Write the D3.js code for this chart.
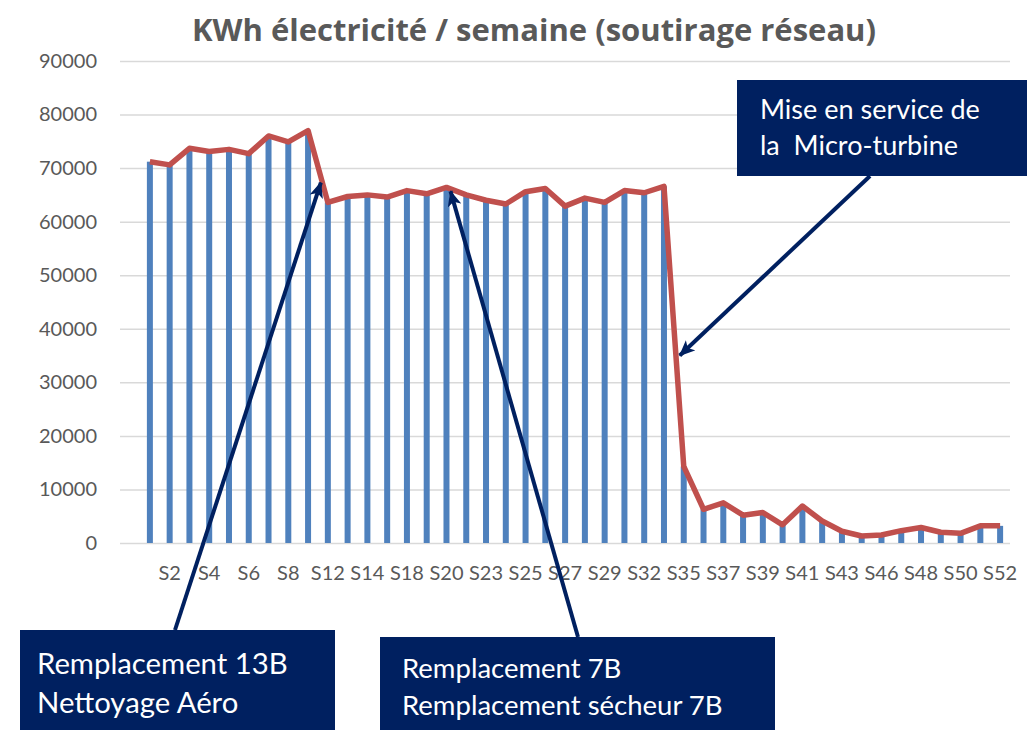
<!DOCTYPE html>
<html>
<head>
<meta charset="utf-8">
<script src="https://cdn.jsdelivr.net/npm/d3@7"></script>
<style>
  body { margin: 0; background: #fff; }
  svg { display: block; font-family: Lato, "Open Sans", sans-serif; }
</style>
</head>
<body>
<div id="chart"></div>
<script>
// Weekly consumption data (kWh)
const weeks = ["S1","S2","S3","S4","S5","S6","S7","S8","S9","S12","S13","S14","S16","S18","S19","S20",
               "S21","S23","S24","S25","S26","S27","S28","S29","S30","S32","S33","S35","S36","S37",
               "S38","S39","S40","S41","S42","S43","S44","S46","S47","S48","S49","S50","S51","S52"]
const kwh = [71200, 70600, 73700, 73100, 73500, 72700, 76000, 74900, 77000, 63600, 64700, 65000, 64600, 65800, 65200, 66400,
             65000, 64000, 63300, 65600, 66200, 62900, 64400, 63600, 65800, 65400, 66600, 14300, 6300, 7500,
             5200, 5700, 3400, 6900, 4100, 2200, 1300, 1500, 2300, 2900, 2000, 1800, 3200, 3200]
const yTicks = [0, 10000, 20000, 30000, 40000, 50000, 60000, 70000, 80000, 90000]

const WIDTH = 1027
const HEIGHT = 730

let svg = d3.select("#chart").append("svg")
    .attr("width", WIDTH)
    .attr("height", HEIGHT)

// scales
const x = d3.scaleBand().domain(weeks).range([140, 1010]).padding(0)
const y = d3.scaleLinear().domain([0, 90000]).range([543, 61])
const xc = d => x(d) + x.bandwidth() / 2

// title
svg.append("text")
    .attr("x", 534)
    .attr("y", 41)
    .attr("text-anchor", "middle")
    .style("font-family", "'Open Sans', sans-serif")
    .style("font-size", "31px")
    .style("font-weight", "bold")
    .style("fill", "#595959")
    .text("KWh électricité / semaine (soutirage réseau)")

// y axis + gridlines
let yAxis = svg.append("g")
    .attr("transform", "translate(120,0)")
    .call(d3.axisLeft(y).tickValues(yTicks).tickSize(-890).tickPadding(23).tickFormat(d3.format("d")))
yAxis.select(".domain").remove()
yAxis.selectAll("line").attr("stroke", "#D9D9D9").attr("stroke-width", 1.5)
yAxis.selectAll("text").style("font-size", "20px").style("fill", "#595959").style("font-family", "Lato, sans-serif")

// x axis, one label out of two
let xAxis = svg.append("g")
    .attr("transform", "translate(0,543)")
    .call(d3.axisBottom(x).tickSize(0).tickPadding(23)
        .tickFormat((d, i) => i % 2 === 1 ? d : ""))
xAxis.select(".domain").remove()
xAxis.selectAll("text").style("font-size", "20px").style("fill", "#595959").style("font-family", "Lato, sans-serif")

// bars
const barW = 6
svg.selectAll("rect.bar")
    .data(weeks)
    .enter()
    .append("rect")
        .attr("class", "bar")
        .attr("x", (d) => xc(d) - barW / 2)
        .attr("y", (d, i) => y(kwh[i]))
        .attr("width", barW)
        .attr("height", (d, i) => y(0) - y(kwh[i]))
        .attr("fill", "#4F81BD")

// line
const line = d3.line()
    .x((d, i) => xc(weeks[i]))
    .y(d => y(d))
svg.append("path")
    .datum(kwh)
    .attr("d", line)
    .attr("fill", "none")
    .attr("stroke", "#C0504D")
    .attr("stroke-width", 5.5)
    .attr("stroke-linejoin", "round")

// arrow head marker
svg.append("defs").append("marker")
    .attr("id", "head")
    .attr("markerUnits", "userSpaceOnUse")
    .attr("viewBox", "0 0 16 14")
    .attr("refX", 15)
    .attr("refY", 7)
    .attr("markerWidth", 16)
    .attr("markerHeight", 14)
    .attr("orient", "auto")
  .append("path")
    .attr("d", "M0,0 L16,7 L0,14 L4,7 Z")
    .attr("fill", "#002060")

// annotations: box, text lines, arrow start and target
const notes = [
    { box: [20, 630, 315, 100], lines: ["Remplacement 13B", "Nettoyage Aéro"], tx: 37, ty: [674, 713], size: 29.3,
      from: [175, 630], to: [xc("S12") - 7, y(67300)] },
    { box: [380, 637, 395, 93], lines: ["Remplacement 7B", "Remplacement sécheur 7B"], tx: 402, ty: [678, 715], size: 27.5,
      from: [578, 637], to: [xc("S20") + 4, y(65700)] },
    { box: [737, 80, 290, 96], lines: ["Mise en service de", "la  Micro-turbine"], tx: 760, ty: [119, 155], size: 27,
      from: [870, 176], to: [xc("S35") - 4, y(35000)] }
]

notes.forEach(n => {
    svg.append("rect")
        .attr("x", n.box[0]).attr("y", n.box[1])
        .attr("width", n.box[2]).attr("height", n.box[3])
        .attr("fill", "#002060")
    n.lines.forEach((t, j) => {
        svg.append("text")
            .attr("x", n.tx).attr("y", n.ty[j])
            .style("font-size", n.size + "px")
            .style("fill", "#fff")
            .style("white-space", "pre")
            .attr("xml:space", "preserve")
            .text(t)
    })
    svg.append("line")
        .attr("x1", n.from[0]).attr("y1", n.from[1])
        .attr("x2", n.to[0]).attr("y2", n.to[1])
        .attr("stroke", "#002060")
        .attr("stroke-width", 4)
        .attr("marker-end", "url(#head)")
})
</script>
</body>
</html>
